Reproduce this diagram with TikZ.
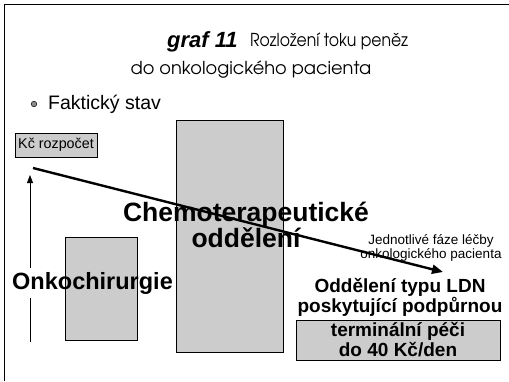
\documentclass[tikz,border=0pt]{standalone}
\usepackage{fontspec}
\setmainfont{Liberation Sans}
\newfontfamily\gothicfont{texgyreadventor-regular.otf}
\usetikzlibrary{arrows.meta}
\definecolor{stipple}{gray}{0.80}
\tikzset{
  shaded/.style={draw=black, line width=0.9pt, fill=stipple, inner sep=0pt},
  titletext/.style={font=\gothicfont\fontsize{17.8}{20}\selectfont, inner sep=0pt},
  bigtext/.style={font=\fontsize{26.5}{24}\selectfont\bfseries, align=center, inner sep=0pt},
  onkotext/.style={font=\fontsize{23.5}{25}\selectfont\bfseries, inner sep=0pt},
  midtext/.style={font=\fontsize{19}{20}\selectfont\bfseries, align=center, inner sep=0pt},
  smalltext/.style={font=\fontsize{13.5}{14.5}\selectfont, align=center, inner sep=0pt},
  flow/.style={line width=2.4pt, -{Triangle[length=11pt, width=9pt]}},
  rise/.style={line width=0.9pt, -{Triangle[length=8pt, width=6pt]}}
}
\begin{document}
\begin{tikzpicture}[x=1pt, y=-1pt]
\useasboundingbox (0,0) rectangle (509,381);
% page frame (left and top edges)
\draw[line width=1.3pt] (4.5,381) -- (4.5,4.5) -- (509,4.5);

% title
\node[font=\fontsize{22}{24}\selectfont\bfseries\itshape, inner sep=0pt, anchor=west] (tnum) at (167,42) {graf 11};
\node[titletext, anchor=west] (tline1) at (250,41) {\scalebox{0.88}[1]{Rozložení toku peněz}};
\node[titletext] (tline2) at (251,70) {do onkologického pacienta};

% bullet
\node[circle, draw=black, line width=0.5pt, fill=black!45, minimum size=5.5pt, inner sep=0pt] (dot) at (34,104) {};
\node[font=\fontsize{19.5}{21}\selectfont, anchor=west, inner sep=0pt] (fakt) at (48,104) {Faktický stav};

% boxes
\node[shaded, minimum width=82pt, minimum height=24pt, font=\fontsize{14.3}{15}\selectfont] (kc) at (56,145) {Kč rozpočet};
\node[shaded, minimum width=72pt, minimum height=103pt] (onkobox) at (101,288.5) {};
\node[shaded, minimum width=107pt, minimum height=232pt] (chemobox) at (229.5,236) {};
\node[shaded, minimum width=204pt, minimum height=40pt] (ldnbox) at (398,340) {};

% arrows
\coordinate (flowstart) at (33,168);
\coordinate (flowend) at (443,272);
\draw[flow] (flowstart) -- (flowend);

\node[onkotext, anchor=west] (onko) at (12,283) {Onkochirurgie};
\coordinate (risebase) at (30,342);
\coordinate (risetip) at (30,175);
\draw[line width=0.9pt, shorten >=4pt] (risebase) -- (risebase |- onko.south);
\draw[rise, shorten <=4pt] (risebase |- onko.north) -- (risetip);

% labels
\node[bigtext] (chemo) at (246,225) {Chemoterapeutické\\oddělení};
\node[smalltext] (faze) at (431,248) {Jednotlivé fáze léčby\\onkologického pacienta};
\node[midtext] (ldn) at (400,297) {Oddělení typu LDN\\poskytující podpůrnou};
\node[midtext] (term) at (ldnbox.center) {terminální péči\\do 40 Kč/den};
\end{tikzpicture}
\end{document}
